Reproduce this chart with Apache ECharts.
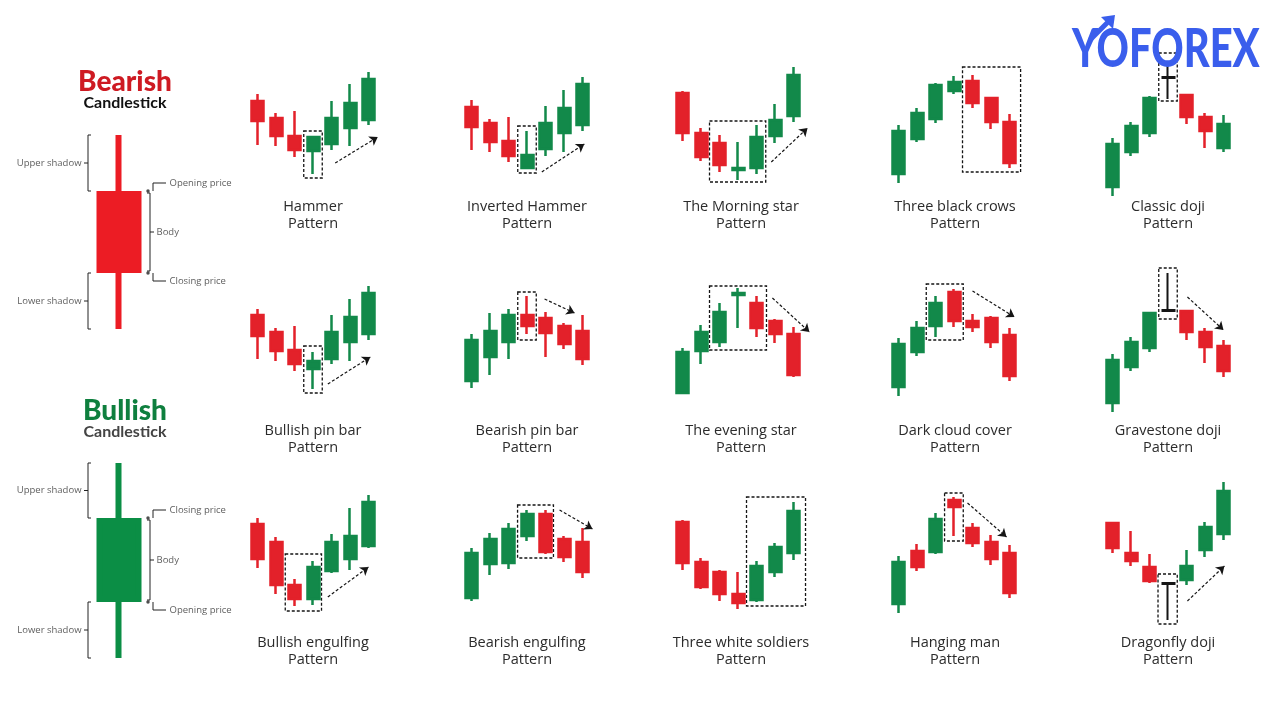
<!DOCTYPE html>
<html><head><meta charset="utf-8">
<script src="https://cdn.jsdelivr.net/npm/echarts@6/dist/echarts.min.js"></script>
<style>html,body{margin:0;padding:0;background:#fff}#c{width:1280px;height:720px}</style>
</head><body><div id="c"></div>
<script>
// ---- data: each candle is [open, close, low, high] (price units) ----
const hammer        = [[109,89,65,116],[92,74,64,97],[74,60,53,99],[59,73,36,73],[66,92,60,109],[82,107,64,126],[90,131,85,138]];
const invHammer     = [[103,83,60,110],[87,68,58,91],[69,54,48,93],[42,55,42,79],[61,87,54,104],[77,102,58,120],[85,126,79,133]];
const morningStar   = [[117,77,69,119],[77,53,49,82],[67,45,38,75],[40,42,30,68],[42,73,36,85],[74,90,67,106],[94,135,88,143]];
const blackCrows    = [[36,79,27,85],[71,97,68,102],[91,125,87,127],[119,128,116,134],[129,107,102,135],[112,88,81,113],[88,47,42,96]];
const classicDoji   = [[23,66,14,72],[58,84,54,88],[77,112,73,114],[132,133,111,145],[115,93,86,115],[93,79,62,97],[62,86,58,95]];
const bullPin       = [[110,89,66,116],[93,74,64,97],[75,61,54,99],[56,64,36,73],[66,93,61,110],[83,108,64,126],[91,132,85,139]];
const bearPin       = [[44,85,37,91],[68,94,50,112],[83,110,66,116],[110,99,91,129],[107,92,68,113],[99,81,76,102],[94,66,60,110]];
const eveningStar   = [[32,73,31,77],[74,93,61,100],[83,113,78,122],[130,132,97,137],[122,97,88,129],[104,91,82,106],[91,50,48,98]];
const darkCloud     = [[38,81,29,87],[73,97,69,104],[99,122,88,129],[133,104,98,136],[104,98,93,111],[107,83,77,109],[90,49,44,97]];
const gravestone    = [[22,65,13,71],[58,83,54,88],[77,112,73,113],[114,115,114,152],[114,93,85,114],[93,78,62,97],[79,54,48,85]];
const bullEngulf    = [[116,81,72,122],[98,55,46,103],[55,41,34,61],[41,73,35,79],[69,98,67,106],[81,104,70,132],[94,138,92,145]];
const bearEngulf    = [[42,87,39,92],[76,101,65,107],[77,111,71,117],[104,126,99,130],[126,88,86,130],[101,83,78,104],[98,68,62,112]];
const whiteSoldiers = [[118,77,70,120],[78,53,51,82],[68,46,39,70],[46,37,31,68],[40,74,38,79],[68,93,63,97],[87,129,80,138]];
const hangingMan    = [[36,78,27,84],[89,73,69,96],[88,121,86,127],[140,133,104,143],[112,97,93,117],[98,81,75,105],[87,47,42,95]];
const dragonfly     = [[117,92,87,118],[87,79,74,109],[73,59,57,86],[56,57,20,58],[60,74,55,90],[90,113,83,118],[106,149,100,158]];

const patternNames = [
  'Hammer','Inverted Hammer','The Morning star','Three black crows','Classic doji',
  'Bullish pin bar','Bearish pin bar','The evening star','Dark cloud cover','Gravestone doji',
  'Bullish engulfing','Bearish engulfing','Three white soldiers','Hanging man','Dragonfly doji'];
const patternCandles = [hammer,invHammer,morningStar,blackCrows,classicDoji,
  bullPin,bearPin,eveningStar,darkCloud,gravestone,
  bullEngulf,bearEngulf,whiteSoldiers,hangingMan,dragonfly];
// highlighted box: [fromIndex, toIndex, lowPrice, highPrice]
const patternBoxes = [
  [2.5,3.5,32,79],[2.5,3.5,37,84],[1.46,4.5,28,89],[3.46,6.6,38,143],[2.5,3.5,109,157],
  [2.5,3.5,32,79],[2.5,3.5,85,133],[1.46,4.54,75,139],[1.5,3.5,85,141],[2.5,3.5,106,157],
  [1.5,3.46,29,86],[2.49,4.43,82,135],[3.46,6.65,34,143],[2.49,3.5,99,147],[2.46,3.5,16,66]];
// trend arrow: [fromIndex, fromPrice, toIndex, toPrice]
const patternArrows = [
  [4.2,47,6.5,73],[3.8,38,6.1,66],[4.8,48,6.76,82],null,null,
  [3.8,41,6.1,68],[3.95,126,5.57,112],[4.86,127,6.86,93],[4.0,134,6.27,108],[4.05,128,6.0,95],
  [3.8,43,6.0,73],[4.76,130,6.54,111],null,[3.73,137,5.84,103],[4.05,39,6.05,74]];
// index of a black doji candle in the pattern (-1 none)
const blackDoji = [-1,-1,-1,-1,3, -1,-1,-1,-1,3, -1,-1,-1,-1,3];

// anatomy candles [open, close, low, high]
const bearishCandle = [486,410,351,545];
const bullishCandle = [81,159,22,217];

// ---- layout & style ----
const RED='#E3212A', GREEN='#12894A', INK='#151515', LOGO='#3A5EEC';
const U=18.5, H=170;
const colCenters=[313,527,738,954,1168];
const labelCenters=[313,527,741,955,1168];
const rowTops=[40,255,470];
const labelTops=[198,422,634];
const FONT="'Open Sans', sans-serif";

const grid=[], xAxis=[], yAxis=[], series=[], graphic=[];
patternCandles.forEach((cs,i)=>{
  const r=Math.floor(i/5), c=i%5;
  grid.push({left:colCenters[c]-3.5*U, top:rowTops[r], width:7.5*U, height:H});
  xAxis.push({type:'value', gridIndex:i, min:-0.5, max:7, show:false});
  yAxis.push({type:'value', gridIndex:i, min:0, max:H, show:false});
  const box=patternBoxes[i], arr=patternArrows[i];
  const s={
    type:'candlestick', xAxisIndex:i, yAxisIndex:i, barWidth:12.5, clip:false, silent:true,
    encode:{x:0, y:[1,2,3,4]},
    itemStyle:{color:GREEN,color0:RED,borderColor:GREEN,borderColor0:RED,borderWidth:2.5},
    data: cs.map((v,j)=> j===blackDoji[i]
      ? {value:[j].concat(v), itemStyle:{color:INK,color0:INK,borderColor:INK,borderColor0:INK,borderWidth:2}}
      : [j].concat(v)),
    markArea:{silent:true, itemStyle:{color:'rgba(0,0,0,0)',borderColor:INK,borderWidth:1.3,borderType:[3,2]},
      data:[[{coord:[box[0],box[3]]},{coord:[box[1],box[2]]}]]}
  };
  if(arr){
    s.markLine={silent:true, symbol:['none','arrow'], symbolSize:8, label:{show:false},
      lineStyle:{color:INK,width:1.2,type:[3,2]},
      data:[[{coord:[arr[0],arr[1]]},{coord:[arr[2],arr[3]]}]]};
  }
  series.push(s);
  graphic.push({type:'text', x:labelCenters[c], y:labelTops[r], silent:true,
    style:{text:patternNames[i]+'\nPattern', font:'400 14.5px '+FONT, fill:'#2b2b2b',
      textAlign:'center', textVerticalAlign:'top', lineHeight:17}});
});

// anatomy grid
const AG=15;
grid.push({left:0, top:120, width:240, height:560});
xAxis.push({type:'value', gridIndex:AG, min:0, max:240, show:false});
yAxis.push({type:'value', gridIndex:AG, min:0, max:560, show:false});
series.push({type:'candlestick', xAxisIndex:AG, yAxisIndex:AG, barWidth:40, silent:true, clip:false,
  encode:{x:0,y:[1,2,3,4]},
  itemStyle:{color:'#0B8E45',color0:'#EC1C24',borderColor:'#0B8E45',borderColor0:'#EC1C24',borderWidth:6},
  data:[[119].concat(bearishCandle),[119].concat(bullishCandle)]});

function poly(pts){
  series.push({type:'line', xAxisIndex:AG, yAxisIndex:AG, data:pts, symbol:'none', silent:true,
    lineStyle:{color:'#222',width:1}, z:3});
}
const labels=[], dots=[];
[[bearishCandle,'Opening price','Closing price'],[bullishCandle,'Closing price','Opening price']].forEach(([cd,topName,botName])=>{
  const [o,cl,lo,hi]=cd;
  const bt=Math.max(o,cl)+3, bb=Math.min(o,cl)-3;
  const um=(hi+bt)/2, lm=(bb+lo)/2, bm=(bt+bb)/2;
  poly([[91,hi],[88,hi],[88,bt],[91,bt]]); poly([[88,um],[84,um]]);
  poly([[91,bb],[88,bb],[88,lo],[91,lo]]); poly([[88,lm],[84,lm]]);
  poly([[147,bt-2],[150,bt-2],[150,bb+2],[147,bb+2]]); poly([[150,bm],[154,bm]]);
  poly([[153,bt],[153,bt+8],[166,bt+8]]);
  poly([[153,bb],[153,bb-8],[166,bb-8]]);
  dots.push([148,bt],[148,bb]);
  labels.push({name:'Upper shadow', value:[82,um], label:{position:'left'}});
  labels.push({name:'Lower shadow', value:[82,lm], label:{position:'left'}});
  labels.push({name:'Body', value:[156,bm], label:{position:'right'}});
  labels.push({name:topName, value:[169,bt+8], label:{position:'right'}});
  labels.push({name:botName, value:[169,bb-8], label:{position:'right'}});
});
series.push({type:'scatter', xAxisIndex:AG, yAxisIndex:AG, data:dots, symbolSize:3.5, silent:true,
  itemStyle:{color:'#222'}, z:4});
series.push({type:'scatter', xAxisIndex:AG, yAxisIndex:AG, data:labels, symbolSize:1, silent:true,
  itemStyle:{color:'rgba(0,0,0,0)'},
  label:{show:true, formatter:'{b}', distance:0, color:'#333', fontSize:9.5, fontFamily:FONT}, z:4});

// titles
graphic.push({type:'text', x:125, y:82, silent:true, style:{text:'Bearish', font:'900 28px Lato', fill:'#CE1A22', textAlign:'center', textVerticalAlign:'middle'}});
graphic.push({type:'text', x:125, y:103, silent:true, style:{text:'Candlestick', font:'bold 16px Lato', fill:'#111', textAlign:'center', textVerticalAlign:'middle'}});
graphic.push({type:'text', x:125, y:411, silent:true, style:{text:'Bullish', font:'900 28px Lato', fill:'#0E7F3E', textAlign:'center', textVerticalAlign:'middle'}});
graphic.push({type:'text', x:125, y:432, silent:true, style:{text:'Candlestick', font:'bold 16px Lato', fill:'#444', textAlign:'center', textVerticalAlign:'middle'}});
// logo
graphic.push({type:'text', x:1072, y:50, scaleX:0.74, z:100, silent:true,
  style:{text:'YOFOREX', font:'900 54px Lato', textVerticalAlign:'middle', fill:LOGO}});
graphic.push({type:'polyline', z:100, silent:true, shape:{points:[[1090,40],[1108,22]]},
  style:{stroke:LOGO, lineWidth:5}});
graphic.push({type:'polygon', z:100, silent:true, shape:{points:[[1101,17],[1115,15],[1113,29]]},
  style:{fill:LOGO}});

const chart=echarts.init(document.getElementById('c'));
chart.setOption({animation:false, backgroundColor:'#fff', grid, xAxis, yAxis, series, graphic});
</script></body></html>
